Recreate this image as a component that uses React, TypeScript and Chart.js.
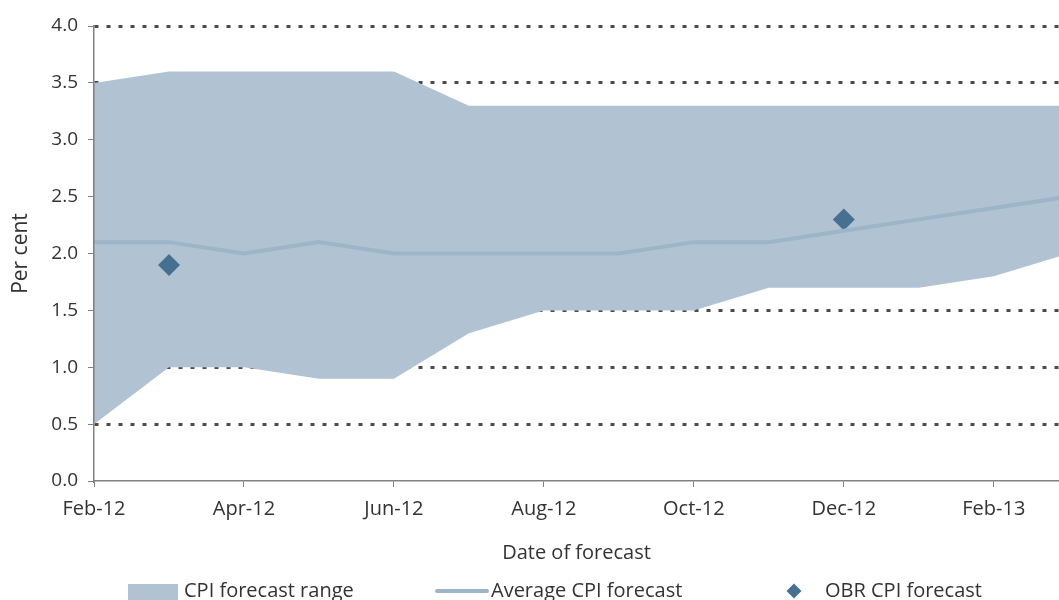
import React, { useEffect, useRef } from "react";
import { Chart, registerables } from "chart.js";

Chart.register(...registerables);

const months = [
  "Feb-12", "Mar-12", "Apr-12", "May-12", "Jun-12", "Jul-12", "Aug-12",
  "Sep-12", "Oct-12", "Nov-12", "Dec-12", "Jan-13", "Feb-13", "Mar-13",
];
const rangeUpper = [3.5, 3.6, 3.6, 3.6, 3.6, 3.3, 3.3, 3.3, 3.3, 3.3, 3.3, 3.3, 3.3, 3.3];
const rangeLower = [0.5, 1.0, 1.0, 0.9, 0.9, 1.3, 1.5, 1.5, 1.5, 1.7, 1.7, 1.7, 1.8, 2.0];
const averageForecast = [2.1, 2.1, 2.0, 2.1, 2.0, 2.0, 2.0, 2.0, 2.1, 2.1, 2.2, 2.3, 2.4, 2.5];
const obrMonths = ["Mar-12", "Dec-12"];
const obrForecast = [1.9, 2.3];

const FONT = "'Open Sans', sans-serif";
const TEXT = "#333333";
const RANGE_COLOR = "#b1c3d3";
const AVG_COLOR = "#9db5c8";
const OBR_COLOR = "#46708f";

const legendPlugin = {
  id: "bottomLegend",
  afterDraw(chart: any) {
    const ctx = chart.ctx as CanvasRenderingContext2D;
    const ds = chart.data.datasets;
    const baseline = 597;
    const mid = 591;
    ctx.save();
    ctx.font = `20px ${FONT}`;
    ctx.textBaseline = "alphabetic";
    // range box
    ctx.fillStyle = ds[0].backgroundColor;
    ctx.fillRect(128, 584, 50, 18);
    ctx.fillStyle = TEXT;
    ctx.fillText(ds[0].label, 184, baseline);
    // average line
    ctx.strokeStyle = ds[2].borderColor;
    ctx.lineWidth = 4;
    ctx.lineCap = "round";
    ctx.beginPath();
    ctx.moveTo(437, mid);
    ctx.lineTo(487, mid);
    ctx.stroke();
    ctx.fillText(ds[2].label, 491, baseline);
    // OBR diamond
    ctx.fillStyle = ds[3].backgroundColor;
    const cx = 794;
    const r = 7.5;
    ctx.beginPath();
    ctx.moveTo(cx, mid - r);
    ctx.lineTo(cx + r, mid);
    ctx.lineTo(cx, mid + r);
    ctx.lineTo(cx - r, mid);
    ctx.closePath();
    ctx.fill();
    ctx.fillStyle = TEXT;
    ctx.fillText(ds[3].label, 825, baseline);
    ctx.restore();
  },
};

export default function App() {
  const ref = useRef<HTMLCanvasElement | null>(null);

  useEffect(() => {
    if (!ref.current) return;
    const toPoints = (arr: number[]) => arr.map((y, i) => ({ x: i, y }));
    const obrPoints = obrMonths.map((m, i) => ({ x: months.indexOf(m), y: obrForecast[i] }));

    const chart = new Chart(ref.current, {
      type: "line",
      data: {
        datasets: [
          {
            label: "CPI forecast range",
            data: toPoints(rangeUpper),
            borderWidth: 0,
            borderColor: "rgba(0,0,0,0)",
            backgroundColor: RANGE_COLOR,
            pointRadius: 0,
            fill: "+1",
            tension: 0,
          },
          {
            label: "lower",
            data: toPoints(rangeLower),
            borderWidth: 0,
            borderColor: "rgba(0,0,0,0)",
            backgroundColor: RANGE_COLOR,
            pointRadius: 0,
            fill: false,
          },
          {
            label: "Average CPI forecast",
            data: toPoints(averageForecast),
            borderColor: AVG_COLOR,
            backgroundColor: AVG_COLOR,
            borderWidth: 4,
            pointRadius: 0,
            fill: false,
          },
          {
            label: "OBR CPI forecast",
            data: obrPoints,
            showLine: false,
            pointStyle: "rectRot",
            pointRadius: 11,
            pointBorderWidth: 0,
            backgroundColor: OBR_COLOR,
            borderColor: OBR_COLOR,
            fill: false,
          },
        ],
      },
      options: {
        responsive: false,
        animation: false,
        devicePixelRatio: 1,
        layout: { autoPadding: false, padding: { top: 26, right: 0, bottom: 35, left: 0 } },
        plugins: {
          legend: { display: false },
          tooltip: { enabled: false },
          filler: { drawTime: "beforeDatasetsDraw" },
        } as any,
        scales: {
          x: {
            type: "linear",
            min: 0,
            max: 12.87,
            afterFit: (s: any) => {
              s.paddingRight = 0;
            },
            grid: {
              drawOnChartArea: false,
              drawTicks: true,
              tickLength: 6,
              tickColor: "#808080",
              tickWidth: 1,
            },
            border: { display: true, color: "#808080", width: 1.5, z: 1 },
            ticks: {
              stepSize: 2,
              includeBounds: false,
              autoSkip: false,
              maxRotation: 0,
              padding: 10,
              color: TEXT,
              font: { family: FONT, size: 20 },
              callback: (v: any) => months[Number(v)] ?? "",
            },
            title: {
              display: true,
              text: "Date of forecast",
              color: TEXT,
              font: { family: FONT, size: 20 },
              padding: { top: 10, bottom: 0 },
            },
          },
          y: {
            min: 0,
            max: 4,
            afterFit: (s: any) => {
              s.width = 94;
            },
            grid: {
              drawOnChartArea: true,
              drawTicks: true,
              tickLength: 6,
              color: (c: any) => (c.tick && c.tick.value === 0 ? "rgba(0,0,0,0)" : "#4a4a4a"),
              lineWidth: 3,
              tickColor: "#808080",
              tickWidth: 1,
              tickBorderDash: [],
            } as any,
            border: { display: true, color: "#808080", width: 1.5, dash: [4, 8], z: 1 },
            ticks: {
              stepSize: 0.5,
              padding: 10,
              color: TEXT,
              font: { family: FONT, size: 19 },
              callback: (v: any) => Number(v).toFixed(1),
            },
            title: {
              display: true,
              text: "Per cent",
              color: TEXT,
              font: { family: FONT, size: 21 },
              padding: { top: 8, bottom: 0 },
            },
          },
        },
      },
      plugins: [legendPlugin],
    } as any);

    return () => chart.destroy();
  }, []);

  return (
    <div style={{ position: "absolute", left: 0, top: 0, width: 1059, height: 600, overflow: "hidden", background: "#fff" }}>
      <canvas ref={ref} width={1059} height={600} style={{ display: "block" }} />
    </div>
  );
}
